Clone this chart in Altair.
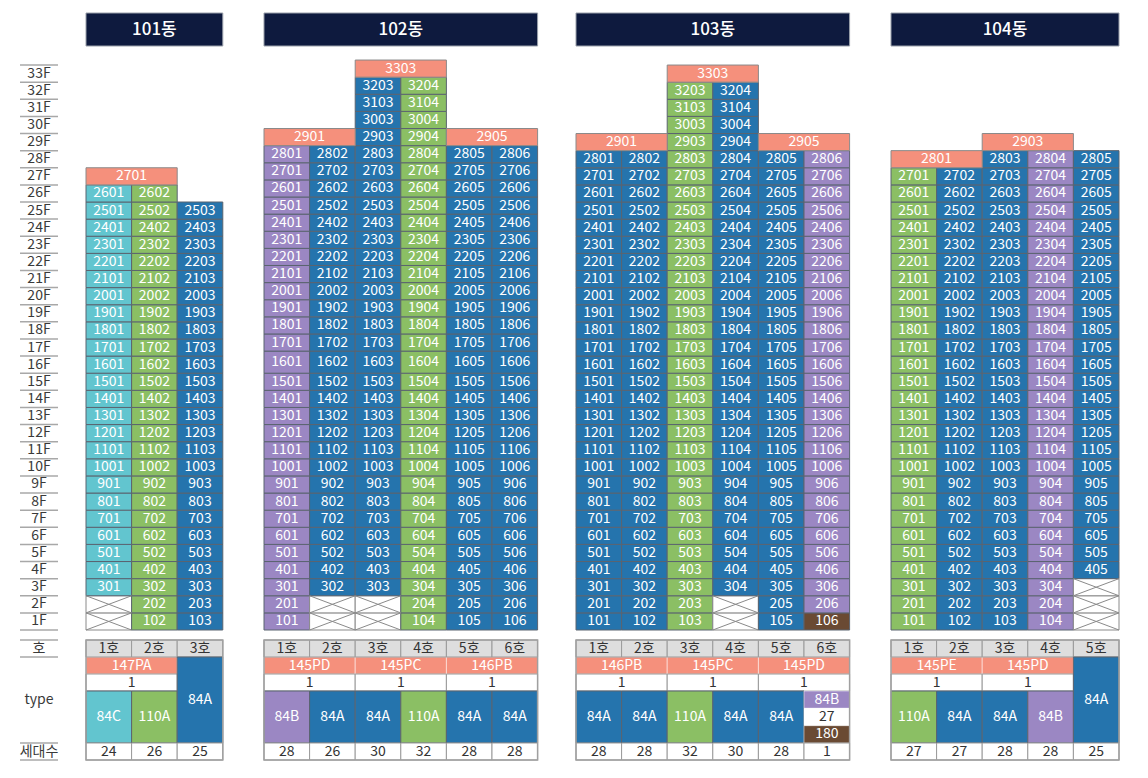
import altair as alt
import pandas as pd

# ---------------- data ----------------
BUILDINGS = ["101동", "102동", "103동", "104동"]
UNIT_TYPES = {
    "101동": ["84C", "110A", "84A"],
    "102동": ["84B", "84A", "84A", "110A", "84A", "84A"],
    "103동": ["84A", "84A", "110A", "84A", "84A", "84B"],
    "104동": ["110A", "84A", "84A", "84B", "84A"],
}
FIRST_FLOOR = {
    "101동": [3, 1, 1],
    "102동": [1, 3, 3, 1, 1, 1],
    "103동": [1, 1, 1, 3, 1, 1],
    "104동": [1, 1, 1, 1, 4],
}
LAST_FLOOR = {
    "101동": [26, 26, 25],
    "102동": [28, 28, 32, 32, 28, 28],
    "103동": [28, 28, 32, 32, 28, 28],
    "104동": [27, 27, 28, 28, 28],
}
SPECIAL_CELLS = [("103동", 6, 1, "180")]
PENTHOUSES = {
    "101동": [("2701", 27, 1, 2)],
    "102동": [("2901", 29, 1, 2), ("3303", 33, 3, 4), ("2905", 29, 5, 6)],
    "103동": [("2901", 29, 1, 2), ("3303", 33, 3, 4), ("2905", 29, 5, 6)],
    "104동": [("2801", 28, 1, 2), ("2903", 29, 3, 4)],
}
PH_TYPES = {
    "101동": [("147PA", 1, 2)],
    "102동": [("145PD", 1, 2), ("145PC", 3, 4), ("146PB", 5, 6)],
    "103동": [("146PB", 1, 2), ("145PC", 3, 4), ("145PD", 5, 6)],
    "104동": [("145PE", 1, 2), ("145PD", 3, 4)],
}
PH_COUNT = "1"
HOUSEHOLDS = {
    "101동": [24, 26, 25],
    "102동": [28, 26, 30, 32, 28, 28],
    "103동": [28, 28, 32, 30, 28, 1],
    "104동": [27, 27, 28, 28, 25],
}
SPLIT_TYPE_CELL = ("103동", 6, ["84B", "27", "180"])
FLOORS = list(range(1, 34))
ROW_LABELS = ["호", "type", "세대수"]

# ---------------- style / layout ----------------
COLORS = {"84A": "#2574ad", "84B": "#9b87c3", "84C": "#62c5cf", "110A": "#8bbf64",
          "180": "#6a4a33", "PH": "#f5907c", "27": "#ffffff"}
NAVY = "#0e1a3e"
FONT = "Noto Sans CJK KR"
X0 = {"101동": 86, "102동": 264, "103동": 576, "104동": 891}
COL_W = 45.6
FLOOR_BOTTOM = 630.0
ROW_H = 17.12
TALL_ROW = ("102동", 16, 5.0)
HDR_Y = (13, 46)
TBL = {"ho": (640, 657), "ph": (657, 674), "cnt": (674, 691), "type": (691, 743), "hh": (743, 760)}
LBL_X = (20, 58)
CELL_STROKE = "#5b6470"
GRID_GRAY = "#9a9a9a"


def row_h(b, f):
    h = ROW_H
    if b == TALL_ROW[0] and f == TALL_ROW[1]:
        h += TALL_ROW[2]
    return h


def floor_bounds(b, f):
    bottom = FLOOR_BOTTOM
    for g in range(1, f):
        bottom -= row_h(b, g)
    return bottom - row_h(b, f), bottom


rects, outlines, texts, hdr_texts, rules = [], [], [], [], []


def add_rect(x, x2, y, y2, fill, stroke=CELL_STROKE, sw=1.0):
    rects.append(dict(x=x, x2=x2, y=y, y2=y2, fill=fill, stroke=stroke, sw=sw))


def add_text(x, y, t, color="#ffffff", size=14):
    texts.append(dict(x=x, y=y, t=str(t), color=color, size=size))


for b in BUILDINGS:
    n = len(UNIT_TYPES[b])
    x0 = X0[b]
    # header
    add_rect(x0, x0 + n * COL_W, HDR_Y[0], HDR_Y[1], NAVY, stroke="#9aa0aa", sw=1)
    hdr_texts.append(dict(x=x0 + n * COL_W / 2, y=(HDR_Y[0] + HDR_Y[1]) / 2, t=b))
    # unit cells
    for i in range(1, n + 1):
        cx0, cx1 = x0 + (i - 1) * COL_W, x0 + i * COL_W
        for f in range(1, LAST_FLOOR[b][i - 1] + 1):
            top, bot = floor_bounds(b, f)
            if f < FIRST_FLOOR[b][i - 1]:
                add_rect(cx0, cx1, top, bot, "#ffffff", stroke="#8a8a8a")
                rules.append(dict(x=cx0, x2=cx1, y=top, y2=bot, c="#8a8a8a", w=1))
                rules.append(dict(x=cx0, x2=cx1, y=bot, y2=top, c="#8a8a8a", w=1))
                continue
            typ = UNIT_TYPES[b][i - 1]
            for sb, si, sf, st in SPECIAL_CELLS:
                if sb == b and si == i and sf == f:
                    typ = st
            add_rect(cx0, cx1, top, bot, COLORS[typ])
            add_text((cx0 + cx1) / 2, (top + bot) / 2, f"{f}{i:02d}")
    # penthouses
    for lab, f, c1, c2 in PENTHOUSES[b]:
        top, bot = floor_bounds(b, f)
        px0, px1 = x0 + (c1 - 1) * COL_W, x0 + c2 * COL_W
        add_rect(px0, px1, top, bot, COLORS["PH"], stroke="#8a8a8a")
        add_text((px0 + px1) / 2, (top + bot) / 2, lab)
    # ---------- table ----------
    covered = set()
    for lab, c1, c2 in PH_TYPES[b]:
        px0, px1 = x0 + (c1 - 1) * COL_W, x0 + c2 * COL_W
        add_rect(px0, px1, *TBL["ph"], COLORS["PH"], stroke="#ffffff", sw=0.5)
        add_text((px0 + px1) / 2, sum(TBL["ph"]) / 2, lab)
        add_rect(px0, px1, *TBL["cnt"], "#ffffff", stroke=GRID_GRAY)
        add_text((px0 + px1) / 2, sum(TBL["cnt"]) / 2, PH_COUNT, color="#333333")
        covered.update(range(c1, c2 + 1))
    for i in range(1, n + 1):
        cx0, cx1 = x0 + (i - 1) * COL_W, x0 + i * COL_W
        cx = (cx0 + cx1) / 2
        add_rect(cx0, cx1, *TBL["ho"], "#dedede", stroke=GRID_GRAY)
        add_text(cx, sum(TBL["ho"]) / 2, f"{i}호", color="#333333")
        typ = UNIT_TYPES[b][i - 1]
        if (b, i) == SPLIT_TYPE_CELL[:2]:
            parts = SPLIT_TYPE_CELL[2]
            t0, t1 = TBL["type"]
            step = (t1 - t0) / len(parts)
            for k, p in enumerate(parts):
                y0, y1 = t0 + k * step, t0 + (k + 1) * step
                add_rect(cx0, cx1, y0, y1, COLORS[p], stroke="#ffffff", sw=0.5)
                add_text(cx, (y0 + y1) / 2, p, color="#333333" if COLORS[p] == "#ffffff" else "#ffffff")
        elif i in covered:
            add_rect(cx0, cx1, *TBL["type"], COLORS[typ], stroke=CELL_STROKE)
            add_text(cx, sum(TBL["type"]) / 2, typ)
        else:
            add_rect(cx0, cx1, TBL["ph"][0], TBL["type"][1], COLORS[typ], stroke=CELL_STROKE)
            add_text(cx, (TBL["ph"][0] + TBL["type"][1]) / 2, typ)
        add_rect(cx0, cx1, *TBL["hh"], "#ffffff", stroke=GRID_GRAY)
        add_text(cx, sum(TBL["hh"]) / 2, HOUSEHOLDS[b][i - 1], color="#333333")
    # outline of table and grid
    outlines.append(dict(x=x0, x2=x0 + n * COL_W, y=TBL["ho"][0], y2=TBL["hh"][1]))

# floor labels
for f in FLOORS:
    top, bot = floor_bounds(None, f)
    add_text(sum(LBL_X) / 2, (top + bot) / 2, f"{f}F", color="#3a3a3a")
    rules.append(dict(x=LBL_X[0], x2=LBL_X[1], y=top, y2=top, c="#a8a8a8", w=1.5))
    if f == 1:
        rules.append(dict(x=LBL_X[0], x2=LBL_X[1], y=bot, y2=bot, c="#a8a8a8", w=1.5))

# table row labels
add_text(sum(LBL_X) / 2, sum(TBL["ho"]) / 2, ROW_LABELS[0], color="#3a3a3a")
add_text(sum(LBL_X) / 2, (TBL["ph"][0] + TBL["type"][1]) / 2, ROW_LABELS[1], color="#3a3a3a")
add_text(sum(LBL_X) / 2, sum(TBL["hh"]) / 2, ROW_LABELS[2], color="#3a3a3a")
for yy in [TBL["ho"][0], TBL["ho"][1], TBL["hh"][0], TBL["hh"][1]]:
    rules.append(dict(x=LBL_X[0], x2=LBL_X[1], y=yy, y2=yy, c="#a8a8a8", w=1.5))

# ---------------- chart ----------------
xs = alt.Scale(domain=[8, 1140], nice=False, zero=False)
ys = alt.Scale(domain=[8, 770], nice=False, zero=False, reverse=True)
X = alt.X("x:Q", scale=xs, axis=None)
Y = alt.Y("y:Q", scale=ys, axis=None)

rect_layer = alt.Chart(pd.DataFrame(rects)).mark_rect().encode(
    x=X, x2="x2:Q", y=Y, y2="y2:Q",
    fill=alt.Fill("fill:N", scale=None),
    stroke=alt.Stroke("stroke:N", scale=None),
    strokeWidth=alt.StrokeWidth("sw:Q", scale=None),
)
outline_layer = alt.Chart(pd.DataFrame(outlines)).mark_rect(
    fillOpacity=0, stroke="#a0a0a0", strokeWidth=1.5
).encode(x=X, x2="x2:Q", y=Y, y2="y2:Q")
rule_layer = alt.Chart(pd.DataFrame(rules)).mark_rule().encode(
    x=X, x2="x2:Q", y=Y, y2="y2:Q",
    color=alt.Color("c:N", scale=None),
    strokeWidth=alt.StrokeWidth("w:Q", scale=None),
)
text_layer = alt.Chart(pd.DataFrame(texts)).mark_text(
    font=FONT, baseline="middle", align="center"
).encode(
    x=X, y=Y, text="t:N",
    color=alt.Color("color:N", scale=None),
    size=alt.Size("size:Q", scale=None),
)
hdr_layer = alt.Chart(pd.DataFrame(hdr_texts)).mark_text(
    font=FONT, baseline="middle", align="center", fontSize=17, fontWeight=500, color="#ffffff"
).encode(x=X, y=Y, text="t:N")

chart = alt.layer(rect_layer, outline_layer, rule_layer, text_layer, hdr_layer).properties(
    width=1132, height=762, autosize="none", padding=0
).configure_view(stroke=None)

chart.save("out.html", embed_options={"renderer": "svg", "actions": False})
